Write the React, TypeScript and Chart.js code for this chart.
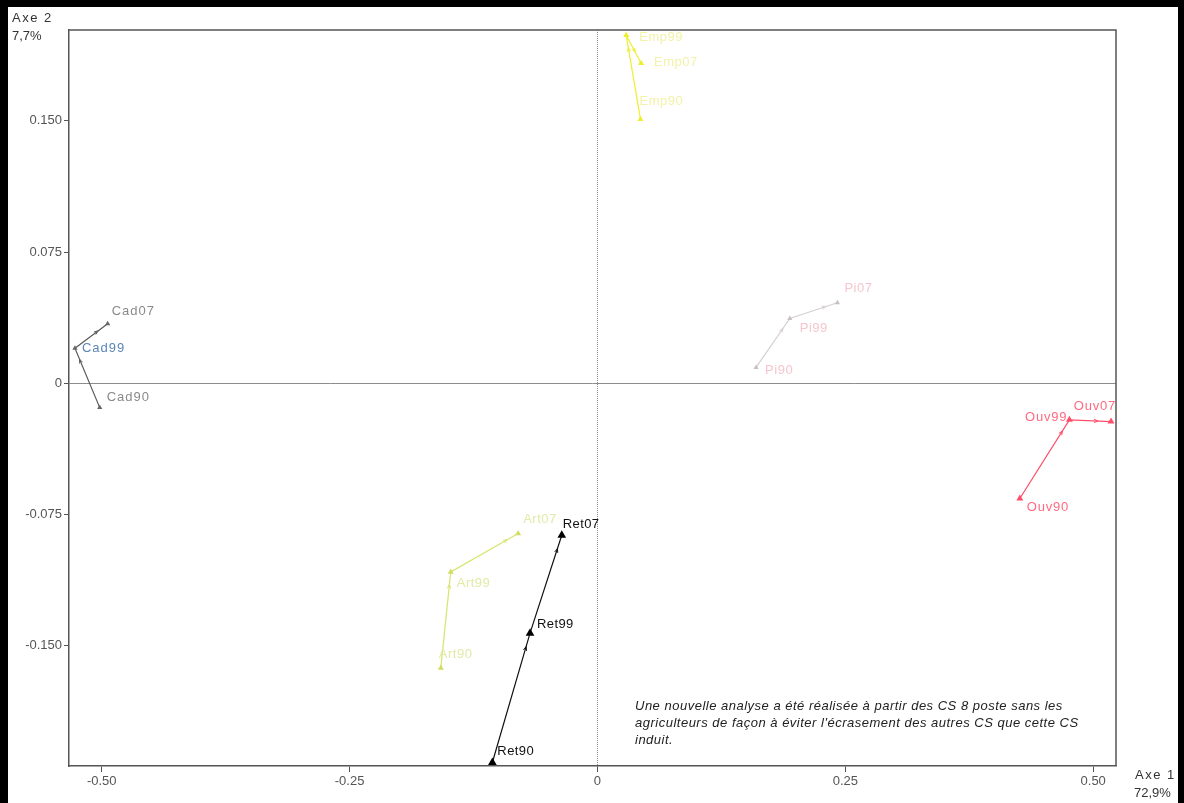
import React, { useEffect, useRef } from "react";
import { Chart, registerables } from "chart.js";

Chart.register(...registerables);

// ---- data ----
const years = ["90", "99", "07"];

const cadX = [-0.502, -0.527, -0.494];
const cadY = [-0.014, 0.02, 0.034];

const ouvX = [0.426, 0.476, 0.518];
const ouvY = [-0.066, -0.021, -0.022];

const retX = [-0.106, -0.068, -0.036];
const retY = [-0.217, -0.143, -0.087];

const artX = [-0.158, -0.148, -0.08];
const artY = [-0.163, -0.108, -0.086];

const piX = [0.16, 0.194, 0.242];
const piY = [0.009, 0.037, 0.046];

const empX = [0.0434, 0.029, 0.044];
const empY = [0.151, 0.199, 0.183];

const xTicks = [-0.5, -0.25, 0, 0.25, 0.5];
const xTickLabels = ["-0.50", "-0.25", "0", "0.25", "0.50"];
const yTicks = [-0.15, -0.075, 0, 0.075, 0.15];
const yTickLabels = ["-0.150", "-0.075", "0", "0.075", "0.150"];

const note = [
  "Une nouvelle analyse a été réalisée à partir des CS 8 poste sans les",
  "agriculteurs de façon à éviter l'écrasement des autres CS que cette CS",
  "induit.",
];

// ---- styles ----
type Series = {
  prefix: string;
  xs: number[];
  ys: number[];
  line: string;
  point: string;
  labelColors: string[];
  radius: number;
  spacing: number;
};

const series: Series[] = [
  { prefix: "Emp", xs: empX, ys: empY, line: "#eeee30", point: "#eeee30", labelColors: ["#f2f2a8", "#f2f2a8", "#f2f2a8"], radius: 3.5, spacing: 0.5 },
  { prefix: "Pi", xs: piX, ys: piY, line: "#d6d0d0", point: "#c8c0c0", labelColors: ["#f5c6cf", "#f5c6cf", "#f5c6cf"], radius: 3, spacing: 0.5 },
  { prefix: "Art", xs: artX, ys: artY, line: "#d8e46e", point: "#d0de60", labelColors: ["#e2eaa6", "#e2eaa6", "#e2eaa6"], radius: 3.5, spacing: 0.5 },
  { prefix: "Cad", xs: cadX, ys: cadY, line: "#5a5a5a", point: "#666666", labelColors: ["#8a8a8a", "#5a86b8", "#8a8a8a"], radius: 3, spacing: 1 },
  { prefix: "Ouv", xs: ouvX, ys: ouvY, line: "#ff4d6a", point: "#ff4d6a", labelColors: ["#ff6a82", "#ff6a82", "#ff6a82"], radius: 4, spacing: 0.8 },
  { prefix: "Ret", xs: retX, ys: retY, line: "#111111", point: "#000000", labelColors: ["#111111", "#111111", "#111111"], radius: 5, spacing: 0.4 },
];

// label placement: [dx, dy, align]
const labelPlacement: Record<string, [number, number, CanvasTextAlign]> = {
  Cad07: [4, -12, "left"],
  Cad99: [7, 0, "left"],
  Cad90: [7, -10, "left"],
  Ouv99: [-2, -2, "right"],
  Ouv07: [5, -15, "right"],
  Ouv90: [7, 9, "left"],
  Ret07: [1, -11, "left"],
  Ret99: [7, -9, "left"],
  Ret90: [5, -11, "left"],
  Art07: [5, -14, "left"],
  Art99: [6, 11, "left"],
  Art90: [-2, -14, "left"],
  Emp99: [13, 2, "left"],
  Emp07: [13, -1, "left"],
  Emp90: [-1, -18, "left"],
  Pi07: [7, -14, "left"],
  Pi99: [10, 10, "left"],
  Pi90: [9, 3, "left"],
};

const FONT = "'Liberation Sans', Arial, sans-serif";

const decorPlugin = {
  id: "decor",
  beforeDraw(chart: any) {
    const ctx = chart.ctx;
    ctx.save();
    ctx.fillStyle = "#ffffff";
    ctx.fillRect(0, 0, chart.width, chart.height);
    ctx.restore();
  },
  beforeDatasetsDraw(chart: any) {
    const ctx = chart.ctx;
    const { left, right, top, bottom } = chart.chartArea;
    const x0 = chart.scales.x.getPixelForValue(0);
    const y0 = chart.scales.y.getPixelForValue(0);
    ctx.save();
    ctx.strokeStyle = "#8c8c8c";
    ctx.lineWidth = 1;
    ctx.beginPath();
    ctx.moveTo(left, Math.round(y0) + 0.5);
    ctx.lineTo(right, Math.round(y0) + 0.5);
    ctx.stroke();
    ctx.setLineDash([1, 1]);
    ctx.beginPath();
    ctx.moveTo(Math.round(x0) + 0.5, top);
    ctx.lineTo(Math.round(x0) + 0.5, bottom);
    ctx.stroke();
    ctx.restore();
  },
  afterDatasetsDraw(chart: any) {
    const ctx = chart.ctx;
    ctx.save();
    series.forEach((s, i) => {
      const meta = chart.getDatasetMeta(i);
      const pts = meta.data;
      // small arrowheads
      for (let j = 1; j < pts.length; j++) {
        const a = pts[j - 1];
        const b = pts[j];
        const dx = b.x - a.x;
        const dy = b.y - a.y;
        const len = Math.hypot(dx, dy);
        if (len < 25) continue;
        const ux = dx / len;
        const uy = dy / len;
        const tx = b.x - ux * (s.radius + 9);
        const ty = b.y - uy * (s.radius + 9);
        const ah = 4;
        const aw = 1.6;
        ctx.strokeStyle = s.line;
        ctx.lineWidth = 1;
        ctx.beginPath();
        ctx.moveTo(tx - ux * ah - uy * aw, ty - uy * ah + ux * aw);
        ctx.lineTo(tx, ty);
        ctx.lineTo(tx - ux * ah + uy * aw, ty - uy * ah - ux * aw);
        ctx.stroke();
      }
      // labels
      ctx.font = `13px ${FONT}`;
      ctx.textBaseline = "middle";
      (ctx as any).letterSpacing = `${s.spacing}px`;
      pts.forEach((p: any, j: number) => {
        const name = s.prefix + years[j];
        const pl = labelPlacement[name] || [5, -10, "left"];
        ctx.fillStyle = s.labelColors[j];
        ctx.textAlign = pl[2];
        ctx.fillText(name, p.x + pl[0], p.y + pl[1]);
      });
      (ctx as any).letterSpacing = "0px";
    });
    ctx.restore();
  },
  afterDraw(chart: any) {
    const ctx = chart.ctx;
    const { left, right, top, bottom } = chart.chartArea;
    ctx.save();
    ctx.strokeStyle = "#555555";
    ctx.lineWidth = 1.5;
    ctx.beginPath();
    ctx.moveTo(left, top);
    ctx.lineTo(right, top);
    ctx.lineTo(right, bottom);
    ctx.stroke();

    // black border of the picture
    ctx.fillStyle = "#000000";
    ctx.fillRect(0, 0, chart.width, 7);
    ctx.fillRect(0, 0, 8, chart.height);
    ctx.fillRect(chart.width - 6, 0, 6, chart.height);

    // axis titles
    ctx.fillStyle = "#333333";
    ctx.font = `13px ${FONT}`;
    ctx.textAlign = "left";
    ctx.textBaseline = "alphabetic";
    (ctx as any).letterSpacing = "1.5px";
    ctx.fillText("Axe 2", 12, 22);
    ctx.fillText("Axe 1", 1135, 779);
    (ctx as any).letterSpacing = "0px";
    ctx.fillText("7,7%", 12, 40);
    ctx.fillText("72,9%", 1134, 797);

    // note
    ctx.fillStyle = "#222222";
    ctx.font = `italic 13px ${FONT}`;
    (ctx as any).letterSpacing = "0.5px";
    note.forEach((t, k) => {
      ctx.fillText(t, 635, 710 + k * 17);
    });
    (ctx as any).letterSpacing = "0px";
    ctx.restore();
  },
};

export default function App() {
  const ref = useRef<HTMLCanvasElement | null>(null);

  useEffect(() => {
    if (!ref.current) return;
    const chart = new Chart(ref.current, {
      type: "scatter",
      data: {
        datasets: series.map((s) => ({
          label: s.prefix,
          data: s.xs.map((x, k) => ({ x, y: s.ys[k] })),
          showLine: true,
          borderColor: s.line,
          borderWidth: 1.2,
          backgroundColor: s.point,
          pointBackgroundColor: s.point,
          pointBorderColor: s.point,
          pointStyle: "triangle",
          pointRadius: s.radius,
          pointBorderWidth: 0,
        })),
      },
      plugins: [decorPlugin],
      options: {
        responsive: false,
        animation: false,
        devicePixelRatio: 1,
        layout: { padding: { top: 30, right: 68, left: 0, bottom: 0 } },
        plugins: {
          legend: { display: false },
          tooltip: { enabled: false },
        },
        scales: {
          x: {
            type: "linear",
            position: "bottom",
            min: -0.533,
            max: 0.523,
            afterBuildTicks: (scale: any) => {
              scale.ticks = xTicks.map((v) => ({ value: v }));
            },
            afterFit: (scale: any) => {
              scale.height = 37;
            },
            ticks: {
              autoSkip: false,
              maxRotation: 0,
              minRotation: 0,
              padding: 2,
              color: "#555555",
              font: { family: "'Liberation Sans Narrow', 'Liberation Sans', Arial", size: 13 },
              callback: (_v: any, i: number) => xTickLabels[i],
            },
            grid: {
              drawOnChartArea: false,
              drawTicks: true,
              tickLength: 6,
              color: "#555555",
            },
            border: { display: true, color: "#555555", width: 1.5 },
          },
          y: {
            type: "linear",
            position: "left",
            min: -0.219,
            max: 0.202,
            afterBuildTicks: (scale: any) => {
              scale.ticks = yTicks.map((v) => ({ value: v }));
            },
            afterFit: (scale: any) => {
              scale.width = 69;
            },
            ticks: {
              autoSkip: false,
              padding: 2,
              color: "#555555",
              font: { family: FONT, size: 13 },
              callback: (_v: any, i: number) => yTickLabels[i],
            },
            grid: {
              drawOnChartArea: false,
              drawTicks: true,
              tickLength: 5,
              color: "#555555",
            },
            border: { display: true, color: "#555555", width: 1.5 },
          },
        },
      },
    });
    return () => chart.destroy();
  }, []);

  return (
    <div style={{ position: "fixed", left: 0, top: 0, width: 1184, height: 803, background: "#fff" }}>
      <canvas ref={ref} width={1184} height={803} style={{ display: "block" }} />
    </div>
  );
}
